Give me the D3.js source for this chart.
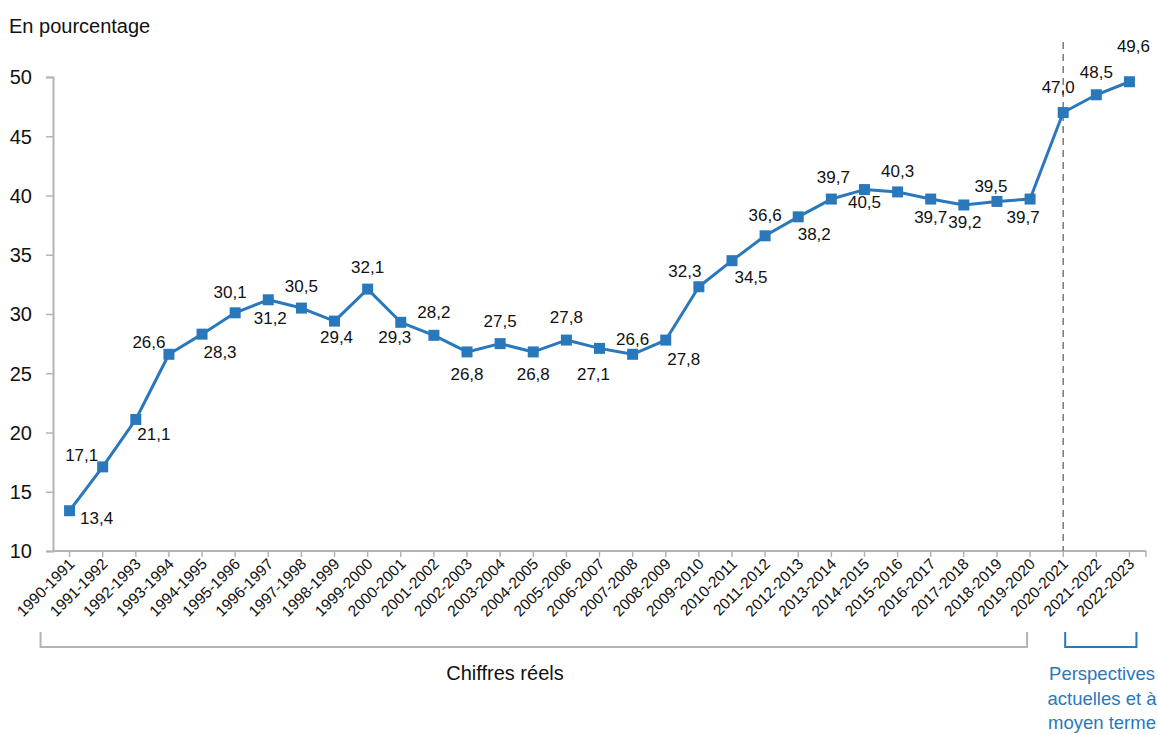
<!DOCTYPE html>
<html>
<head>
<meta charset="utf-8">
<script src="https://cdn.jsdelivr.net/npm/d3@7/dist/d3.min.js"></script>
<style>
  html, body { margin: 0; padding: 0; background: #ffffff; }
  svg { display: block; font-family: "Liberation Sans", Arial, sans-serif; }
</style>
</head>
<body>
<svg id="chart" width="1158" height="734"></svg>
<script>
// School years shown on the horizontal axis
const years = [
  "1990-1991", "1991-1992", "1992-1993", "1993-1994", "1994-1995", "1995-1996",
  "1996-1997", "1997-1998", "1998-1999", "1999-2000", "2000-2001", "2001-2002",
  "2002-2003", "2003-2004", "2004-2005", "2005-2006", "2006-2007", "2007-2008",
  "2008-2009", "2009-2010", "2010-2011", "2011-2012", "2012-2013", "2013-2014",
  "2014-2015", "2015-2016", "2016-2017", "2017-2018", "2018-2019", "2019-2020",
  "2020-2021", "2021-2022", "2022-2023"
];

// Percentage for each year
const values = [
  13.4, 17.1, 21.1, 26.6, 28.3, 30.1, 31.2, 30.5, 29.4, 32.1, 29.3, 28.2,
  26.8, 27.5, 26.8, 27.8, 27.1, 26.6, 27.8, 32.3, 34.5, 36.6, 38.2, 39.7,
  40.5, 40.3, 39.7, 39.2, 39.5, 39.7, 47.0, 48.5, 49.6
];

// Vertical axis ticks
const yTicks = [10, 15, 20, 25, 30, 35, 40, 45, 50];

// Periods marked under the axis
const actualFrom = "1990-1991", actualTo = "2019-2020";
const outlookFrom = "2020-2021", outlookTo = "2022-2023";

// Label placement around each marker: [dx, dy] from the marker centre
const labelOffsets = [
  [27, 13], [-21, -6], [18, 21], [-20, -6], [18, 24], [-5, -15], [2, 24], [0, -16],
  [2, 22], [0, -16], [-6, 21], [0, -17], [0, 28], [0, -17], [0, 28], [0, -17],
  [-6, 32], [0, -9], [18, 25], [-14, -10], [19, 22], [0, -15], [16, 23], [2, -16],
  [0, 18], [0, -15], [0, 24], [1, 23], [-6, -9], [-7, 24], [-5, -20], [0, -17],
  [4, -30]
];

const BLUE = "#2a78bc";
const GREY = "#b4b4b4";
const TEXT = "#111111";

const svg = d3.select("#chart");

const x = d3.scaleBand().domain(years).range([53, 1146]).padding(0);
const cx = d => x(d) + x.bandwidth() / 2;
const y = d3.scaleLinear().domain([10, 50]).range([551, 77]);

// Unit caption
svg.append("text")
  .attr("x", 9).attr("y", 33)
  .attr("font-size", 20).attr("fill", TEXT)
  .text("En pourcentage");

// Y axis
const yAxis = svg.append("g")
  .attr("transform", "translate(53,0)")
  .call(d3.axisLeft(y).tickValues(yTicks).tickSize(7).tickPadding(14).tickFormat(d3.format("d")));
yAxis.select(".domain").attr("stroke", GREY).attr("stroke-width", 2);
yAxis.selectAll(".tick line").attr("stroke", GREY).attr("stroke-width", 1.5);
yAxis.selectAll(".tick text")
  .attr("font-size", 20).attr("fill", TEXT).attr("font-family", "Liberation Sans, Arial, sans-serif")
  .attr("dy", "0.34em");

// X axis with ticks at each year
const xAxisG = svg.append("g").attr("transform", "translate(0,551)");
xAxisG.append("line")
  .attr("x1", x.range()[0]).attr("x2", x.range()[1])
  .attr("y1", 0).attr("y2", 0)
  .attr("stroke", GREY).attr("stroke-width", 2);
xAxisG.selectAll("line.tk").data(years).join("line")
  .attr("class", "tk")
  .attr("x1", d => cx(d)).attr("x2", d => cx(d))
  .attr("y1", 0).attr("y2", 6)
  .attr("stroke", GREY).attr("stroke-width", 1.5);
xAxisG.selectAll("text").data(years).join("text")
  .attr("text-anchor", "end")
  .attr("font-size", 15.5).attr("fill", TEXT)
  .attr("transform", d => `translate(${cx(d) + 6},${14}) rotate(-45)`)
  .text(d => d);
// final tick closing the axis
xAxisG.append("line")
  .attr("x1", x.range()[1]).attr("x2", x.range()[1])
  .attr("y1", 0).attr("y2", 6)
  .attr("stroke", GREY).attr("stroke-width", 1.5);

// Divider before the outlook years
svg.append("line")
  .attr("x1", cx(outlookFrom)).attr("x2", cx(outlookFrom))
  .attr("y1", 42).attr("y2", 551)
  .attr("stroke", "#808080").attr("stroke-width", 1.6)
  .attr("stroke-dasharray", "7,5");

// Series line
const line = d3.line().x((d, i) => cx(years[i])).y(d => y(d));
svg.append("path")
  .datum(values)
  .attr("d", line)
  .attr("fill", "none")
  .attr("stroke", BLUE)
  .attr("stroke-width", 3)
  .attr("stroke-linejoin", "round");

// Square markers
const ms = 11;
svg.selectAll("rect.mk").data(values).join("rect")
  .attr("class", "mk")
  .attr("x", (d, i) => cx(years[i]) - ms / 2)
  .attr("y", d => y(d) - ms / 2)
  .attr("width", ms).attr("height", ms)
  .attr("fill", BLUE);

// Value labels with decimal comma
const fmt = v => d3.format(".1f")(v).replace(".", ",");
svg.selectAll("text.val").data(values).join("text")
  .attr("class", "val")
  .attr("text-anchor", "middle")
  .attr("font-size", 17).attr("fill", TEXT)
  .attr("x", (d, i) => cx(years[i]) + labelOffsets[i][0])
  .attr("y", (d, i) => y(d) + labelOffsets[i][1])
  .text(d => fmt(d));

// Period brackets under the axis
function bracket(x1, x2, color) {
  svg.append("path")
    .attr("d", `M${x1},632 V647 H${x2} V632`)
    .attr("fill", "none")
    .attr("stroke", color)
    .attr("stroke-width", 2);
}
const ax1 = cx(actualFrom) - 29, ax2 = cx(actualTo) - 3;
bracket(ax1, ax2, GREY);
svg.append("text")
  .attr("x", 505).attr("y", 680)
  .attr("text-anchor", "middle")
  .attr("font-size", 20).attr("fill", TEXT)
  .text("Chiffres réels");

const ox1 = cx(outlookFrom) + 2, ox2 = cx(outlookTo) + 7;
bracket(ox1, ox2, BLUE);
const outlookText = svg.append("text")
  .attr("text-anchor", "middle")
  .attr("font-size", 18.5).attr("fill", BLUE);
["Perspectives", "actuelles et à", "moyen terme"].forEach((t, i) => {
  outlookText.append("tspan")
    .attr("x", 1102).attr("y", 680 + i * 24.5)
    .text(t);
});
</script>
</body>
</html>
